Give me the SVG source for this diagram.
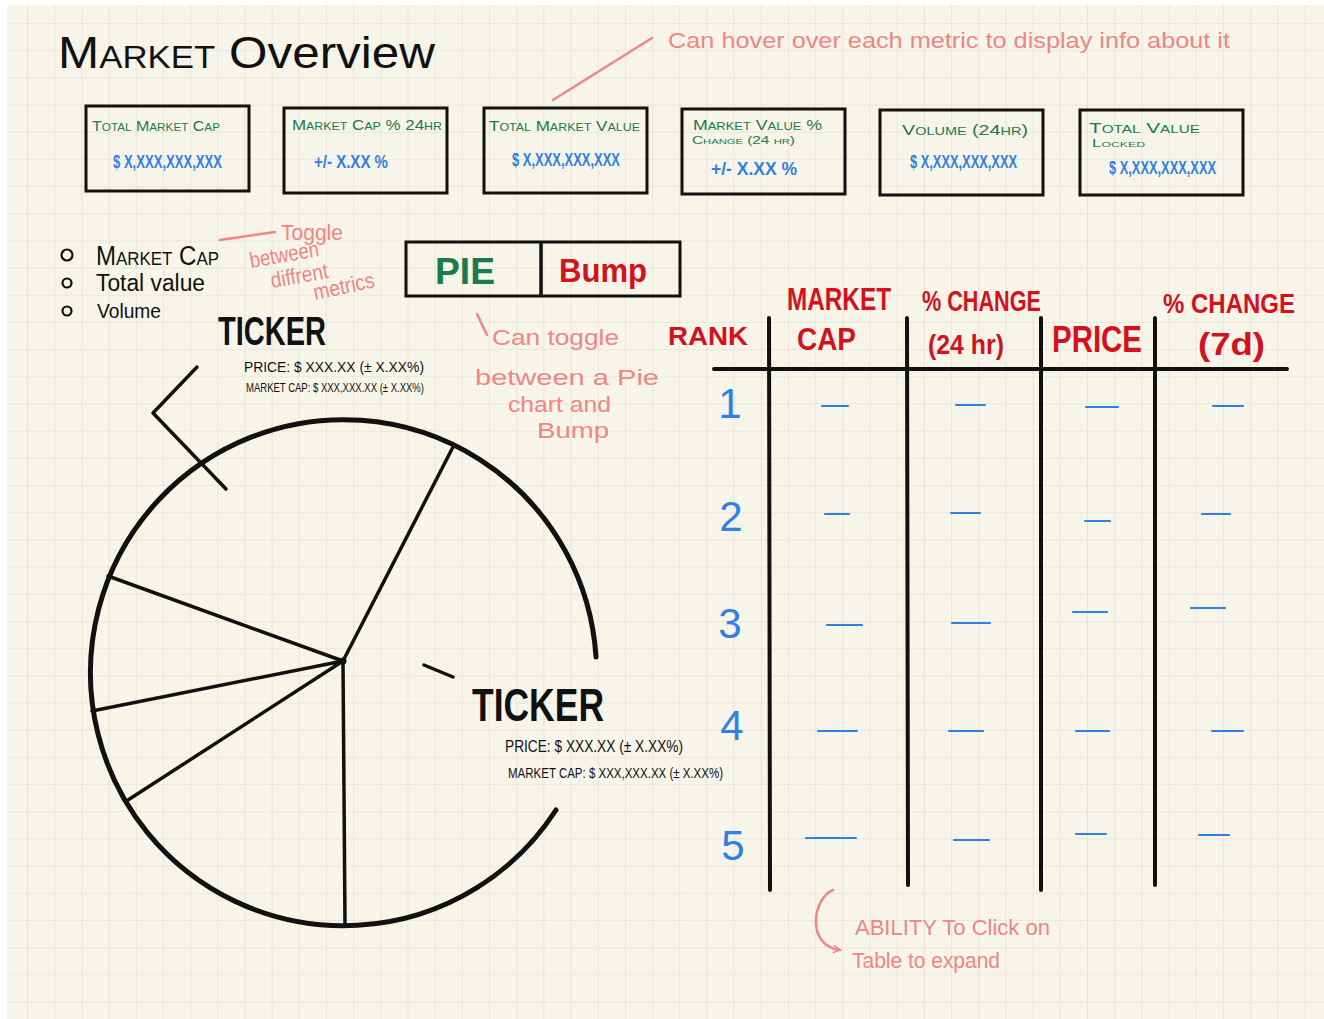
<svg xmlns="http://www.w3.org/2000/svg" width="1324" height="1019" viewBox="0 0 1324 1019">
<defs>
<pattern id="grid" patternUnits="userSpaceOnUse" x="27" y="23" width="27.18" height="27.18">
<path d="M0,0 H27.18 M0,0 V27.18" fill="none" stroke="#dedbcd" stroke-width="1.2"/>
</pattern>
<marker id="arr" viewBox="0 0 10 10" refX="8" refY="5" markerWidth="9" markerHeight="9" orient="auto" markerUnits="userSpaceOnUse">
<path d="M1,1 L8,5 L1,9" fill="none" stroke="#ef8585" stroke-width="1.6" stroke-linecap="round"/>
</marker>
<style>
text{font-family:"Liberation Sans","DejaVu Sans",sans-serif}
.box{fill:none;stroke:#111;stroke-width:3}
.lbl{fill:#1b7a50;font-size:15px;font-variant:small-caps}
.lbls{fill:#1b7a50;font-size:11px;font-variant:small-caps}
.val{fill:#2f80e4;font-size:18px;font-weight:bold}
.note{fill:#ef8585;font-size:22px}
.red{fill:#d4111c;font-weight:bold}
.blk{fill:#111}
.ink{fill:none;stroke:#111;stroke-linecap:round;stroke-linejoin:round}
.pink{fill:none;stroke:#ef8585;stroke-width:2.5;stroke-linecap:round}
.dash{stroke:#2f80e4;stroke-width:2.2;stroke-linecap:round}
.num{fill:#2f80e4;font-size:42px}
</style>
</defs>
<rect x="0" y="0" width="1324" height="1019" fill="#ffffff"/>
<rect x="7" y="5" width="1317" height="1014" fill="#f7f5ea"/>
<rect x="7" y="5" width="1317" height="1014" fill="url(#grid)"/>

<g id="title">
<text x="58" y="68" class="blk" font-size="44" textLength="377" lengthAdjust="spacingAndGlyphs"><tspan font-variant="small-caps">Market</tspan> Overview</text>
</g>

<g id="metric-total-market-cap">
<rect x="86" y="106" width="163" height="85" class="box"/>
<text x="92" y="131" class="lbl" textLength="128" lengthAdjust="spacingAndGlyphs">Total Market Cap</text>
<text x="113" y="168" class="val" textLength="109" lengthAdjust="spacingAndGlyphs">$ X,XXX,XXX,XXX</text>
</g>
<g id="metric-market-cap-pct">
<rect x="284" y="108" width="163" height="85" class="box"/>
<text x="292" y="130" class="lbl" textLength="150" lengthAdjust="spacingAndGlyphs">Market Cap % 24hr</text>
<text x="314" y="168" class="val" textLength="74" lengthAdjust="spacingAndGlyphs">+/- X.XX %</text>
</g>
<g id="metric-total-market-value">
<rect x="484" y="108" width="163" height="85" class="box"/>
<text x="489" y="131" class="lbl" textLength="151" lengthAdjust="spacingAndGlyphs">Total Market Value</text>
<text x="512" y="166" class="val" textLength="108" lengthAdjust="spacingAndGlyphs">$ X,XXX,XXX,XXX</text>
</g>
<g id="metric-market-value-pct">
<rect x="682" y="109" width="163" height="85" class="box"/>
<text x="693" y="130" class="lbl" textLength="129" lengthAdjust="spacingAndGlyphs">Market Value %</text>
<text x="692" y="144" class="lbls" textLength="103" lengthAdjust="spacingAndGlyphs">Change (24 hr)</text>
<text x="711" y="175" class="val" textLength="86" lengthAdjust="spacingAndGlyphs">+/- X.XX %</text>
</g>
<g id="metric-volume">
<rect x="880" y="110" width="163" height="85" class="box"/>
<text x="902" y="135" class="lbl" textLength="126" lengthAdjust="spacingAndGlyphs">Volume (24hr)</text>
<text x="910" y="168" class="val" textLength="107" lengthAdjust="spacingAndGlyphs">$ X,XXX,XXX,XXX</text>
</g>
<g id="metric-total-value-locked">
<rect x="1080" y="110" width="163" height="85" class="box"/>
<text x="1089" y="133" class="lbl" textLength="111" lengthAdjust="spacingAndGlyphs">Total Value</text>
<text x="1092" y="147" class="lbls" textLength="53" lengthAdjust="spacingAndGlyphs">Locked</text>
<text x="1109" y="174" class="val" textLength="107" lengthAdjust="spacingAndGlyphs">$ X,XXX,XXX,XXX</text>
</g>

<g id="metric-options">
<circle cx="67" cy="255" r="5.5" class="ink" stroke-width="2.2"/>
<circle cx="67" cy="283" r="4.5" class="ink" stroke-width="2.2"/>
<circle cx="67" cy="311" r="4.5" class="ink" stroke-width="2.2"/>
<text x="96" y="265" class="blk" font-size="27" font-variant="small-caps" textLength="123" lengthAdjust="spacingAndGlyphs">Market Cap</text>
<text x="96" y="291" class="blk" font-size="23" textLength="109" lengthAdjust="spacingAndGlyphs">Total value</text>
<text x="97" y="318" class="blk" font-size="21" textLength="64" lengthAdjust="spacingAndGlyphs">Volume</text>
</g>

<g id="note-toggle-metrics">
<text x="281" y="240" class="note" font-size="24" textLength="62" lengthAdjust="spacingAndGlyphs">Toggle</text>
<text x="251" y="268" class="note" font-size="21" transform="rotate(-10 251 268)" textLength="70" lengthAdjust="spacingAndGlyphs">between</text>
<text x="272" y="288" class="note" font-size="21" transform="rotate(-10 272 288)" textLength="58" lengthAdjust="spacingAndGlyphs">diffrent</text>
<text x="315" y="300" class="note" font-size="21" transform="rotate(-12 315 300)" textLength="62" lengthAdjust="spacingAndGlyphs">metrics</text>
</g>

<g id="chart-toggle">
<rect x="406" y="242" width="274" height="54" class="box" stroke-width="3.5"/>
<line x1="541" y1="242" x2="541" y2="296" stroke="#111" stroke-width="3.5"/>
<text x="435" y="284" fill="#1b7a50" font-size="36" font-weight="bold" textLength="60" lengthAdjust="spacingAndGlyphs">PIE</text>
<text x="559" y="282" class="red" font-size="34" textLength="88" lengthAdjust="spacingAndGlyphs">Bump</text>
</g>

<g id="note-toggle-chart">
<text x="492" y="345" class="note" font-size="25" textLength="127" lengthAdjust="spacingAndGlyphs">Can toggle</text>
<text x="475" y="385" class="note" font-size="25" textLength="184" lengthAdjust="spacingAndGlyphs">between a Pie</text>
<text x="508" y="412" class="note" font-size="21" textLength="103" lengthAdjust="spacingAndGlyphs">chart and</text>
<text x="537" y="438" class="note" font-size="21" textLength="72" lengthAdjust="spacingAndGlyphs">Bump</text>
</g>

<g id="note-hover">
<text x="668" y="48" class="note" font-size="23" textLength="562" lengthAdjust="spacingAndGlyphs">Can hover over each metric to display info about it</text>
</g>

<g id="ticker-top">
<text x="218" y="345" class="blk" font-size="40" font-weight="bold" textLength="108" lengthAdjust="spacingAndGlyphs">TICKER</text>
<text x="244" y="372" class="blk" font-size="15" textLength="180" lengthAdjust="spacingAndGlyphs">PRICE: $ XXX.XX (± X.XX%)</text>
<text x="246" y="392" class="blk" font-size="12" textLength="178" lengthAdjust="spacingAndGlyphs">MARKET CAP: $ XXX,XXX.XX (± X.XX%)</text>
</g>

<g id="pie-chart">
<path d="M596,657 A253,253 0 1 0 556,810" class="ink" stroke-width="5"/>
<path d="M343,661 L453,447 M343,661 L108,576 M343,661 L92,711 M343,661 L128,800 M343,661 L345,925" class="ink" stroke-width="3.5"/>
<circle cx="343" cy="661" r="3.5" fill="#111"/>
</g>

<g id="ticker-bottom">
<text x="472" y="721" class="blk" font-size="46" font-weight="bold" textLength="132" lengthAdjust="spacingAndGlyphs">TICKER</text>
<text x="505" y="752" class="blk" font-size="17" textLength="178" lengthAdjust="spacingAndGlyphs">PRICE: $ XXX.XX (± X.XX%)</text>
<text x="508" y="778" class="blk" font-size="15" textLength="215" lengthAdjust="spacingAndGlyphs">MARKET CAP: $ XXX,XXX.XX (± X.XX%)</text>
</g>

<g id="table">
<text x="668" y="345" class="red" font-size="26" textLength="80" lengthAdjust="spacingAndGlyphs">RANK</text>
<text x="787" y="310" class="red" font-size="31" textLength="104" lengthAdjust="spacingAndGlyphs">MARKET</text>
<text x="797" y="350" class="red" font-size="31" textLength="59" lengthAdjust="spacingAndGlyphs">CAP</text>
<text x="922" y="311" class="red" font-size="29" textLength="119" lengthAdjust="spacingAndGlyphs">% CHANGE</text>
<text x="928" y="354" class="red" font-size="27" textLength="76" lengthAdjust="spacingAndGlyphs">(24 hr)</text>
<text x="1052" y="352" class="red" font-size="36" textLength="90" lengthAdjust="spacingAndGlyphs">PRICE</text>
<text x="1163" y="313" class="red" font-size="27" textLength="132" lengthAdjust="spacingAndGlyphs">% CHANGE</text>
<text x="1198" y="355" class="red" font-size="31" textLength="67" lengthAdjust="spacingAndGlyphs">(7d)</text>
<g stroke="#111" stroke-width="4" stroke-linecap="round">
<line x1="714" y1="369" x2="1287" y2="369"/>
<line x1="769" y1="318" x2="770" y2="890"/>
<line x1="907" y1="318" x2="908" y2="885"/>
<line x1="1041" y1="318" x2="1041" y2="890"/>
<line x1="1155" y1="318" x2="1155" y2="885"/>
</g>
<text x="730" y="418" class="num" text-anchor="middle">1</text>
<text x="731" y="531" class="num" text-anchor="middle">2</text>
<text x="730" y="638" class="num" text-anchor="middle">3</text>
<text x="732" y="740" class="num" text-anchor="middle">4</text>
<text x="733" y="860" class="num" text-anchor="middle">5</text>
<g class="dash">
<line x1="822" y1="406" x2="848" y2="406"/><line x1="956" y1="405" x2="985" y2="405"/><line x1="1086" y1="407" x2="1118" y2="407"/><line x1="1213" y1="406" x2="1243" y2="406"/>
<line x1="825" y1="514" x2="849" y2="514"/><line x1="951" y1="513" x2="980" y2="513"/><line x1="1085" y1="521" x2="1110" y2="521"/><line x1="1202" y1="514" x2="1230" y2="514"/>
<line x1="827" y1="625" x2="862" y2="625"/><line x1="952" y1="623" x2="990" y2="623"/><line x1="1073" y1="612" x2="1107" y2="612"/><line x1="1191" y1="608" x2="1225" y2="608"/>
<line x1="818" y1="731" x2="857" y2="731"/><line x1="949" y1="731" x2="983" y2="731"/><line x1="1076" y1="731" x2="1109" y2="731"/><line x1="1212" y1="731" x2="1243" y2="731"/>
<line x1="806" y1="838" x2="856" y2="838"/><line x1="954" y1="840" x2="989" y2="840"/><line x1="1076" y1="834" x2="1106" y2="834"/><line x1="1199" y1="835" x2="1229" y2="835"/>
</g>
</g>

<g id="note-expand">
<text x="855" y="935" class="note" font-size="21" textLength="195" lengthAdjust="spacingAndGlyphs">ABILITY To Click on</text>
<text x="852" y="968" class="note" font-size="22" textLength="148" lengthAdjust="spacingAndGlyphs">Table to expand</text>
</g>

<g id="connectors">
<line x1="553" y1="100" x2="652" y2="38" class="pink" stroke-width="3"/>
<line x1="220" y1="240" x2="275" y2="232" class="pink"/>
<line x1="477" y1="314" x2="487" y2="335" class="pink"/>
<path d="M833,890 C813,898 805,945 840,950" class="pink" marker-end="url(#arr)"/>
<polyline points="197,367 153,413 226,489" class="ink" stroke-width="3.5"/>
<line x1="424" y1="665" x2="453" y2="677" class="ink" stroke-width="3.5"/>
</g>
</svg>
